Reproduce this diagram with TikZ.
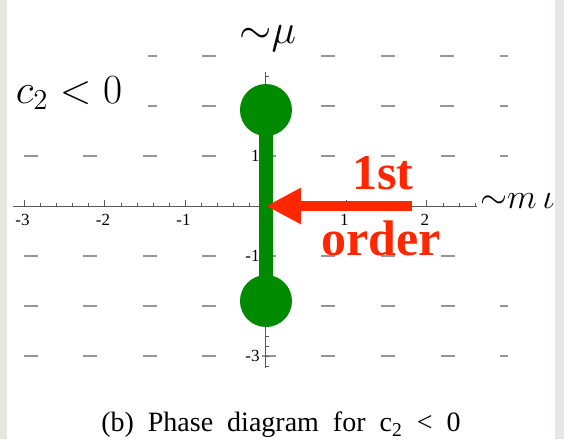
\documentclass[tikz,border=0pt]{standalone}
\usepackage{fontspec}
\setmainfont{Liberation Serif}
\newfontfamily\capfont[WordSpace=2]{Liberation Serif}
\usetikzlibrary{arrows.meta}
\definecolor{slidegray}{RGB}{233,230,225}
\definecolor{phasegreen}{RGB}{0,138,0}
\definecolor{phasered}{RGB}{255,38,0}
\definecolor{gridgray}{RGB}{150,150,150}
\definecolor{axisgray}{RGB}{90,90,90}

\begin{document}
\begin{tikzpicture}[x=40.25pt, y=25pt,
    gridrow/.style={gridgray, line width=1pt, dash pattern=on 7pt off 22.75pt},
    axisline/.style={axisgray, line width=0.5pt},
    ticklbl/.style={font=\fontsize{8.5}{9}\selectfont, inner sep=0pt},
    endpt/.style={circle, fill=phasegreen, minimum size=26pt, inner sep=0pt},
    greenbar/.style={phasegreen, line width=7pt},
    redarrow/.style={phasered, line width=5pt, -{Triangle[length=17.5pt, width=17pt]}},
    redlbl/.style={phasered, font=\fontsize{25}{28}\selectfont\bfseries, anchor=base, inner sep=0pt},
    mathlbl/.style={font=\fontsize{21}{24}\selectfont, inner sep=0pt}]
    % slide frame
    \useasboundingbox (-3.304,-4.66) rectangle (3.702,4.12);
    \fill[white] (-3.304,-4.66) rectangle (3.702,4.12);
    \fill[slidegray] (-3.304,-4.66) rectangle (-3.217,4.12);
    \fill[slidegray] (3.590,-4.66) rectangle (3.702,4.12);

    % dashed grid rows
    \foreach \r in {1,-2,-3}
        \draw[gridrow] (-3.006,\r) -- (3.006,\r);
    \draw[gridrow] (-3.006,-1) -- (2.6,-1);
    \foreach \r in {3,2}
        \draw[gridrow, dash phase=2.5pt] (-1.466,\r) -- (3.006,\r);

    % axes
    \draw[axisline] (-3.143,0) -- (2.621,0);
    \draw[axisline] (0,-3.24) -- (0,2.68);
    \foreach \t in {-3.0,-2.8,...,2.6}
        \draw[axisline] (\t,0) -- ++(0,1.5pt);
    \foreach \t in {-3,-2,-1,1,2}
        \draw[axisline] (\t,0) -- ++(0,3pt);
    \foreach \t in {-3.2,-3.0,...,2.6}
        \draw[axisline] (0,\t) -- ++(1.5pt,0);
    \foreach \t in {-3,-2,-1,1,2}
        \node[ticklbl, anchor=north] (xl\t) at ([xshift=-1pt, yshift=-4pt]\t,0) {\t};
    \foreach \t in {1,-1,-3}
        \node[ticklbl, anchor=east] (yl\t) at ([xshift=-3pt]0,\t) {\t};

    % transition line
    \node[endpt] (top) at (0,1.92) {};
    \node[endpt] (bot) at (0,-1.9) {};
    \draw[greenbar] (top.center) -- (bot.center);

    \coordinate (orig) at (0,0);
    \coordinate (tail) at (1.814,0);
    \draw[redarrow] (tail) -- (orig);
    \node[redlbl] (first) at (1.453,0.34) {1st};
    \node[redlbl] (order) at (1.43,-0.98) {order};

    % labels
    \node[mathlbl, anchor=base, fill=white, inner sep=4pt] (mu) at (0.02,3.24) {${\sim}\mu$};
    \node[mathlbl, anchor=base] (c2) at (-2.447,2.06) {$c_2<0$};
    \node[mathlbl, anchor=base west, font=\fontsize{19}{22}\selectfont] (m) at (2.658,-0.04) {${\sim}m\,\iota$};
    \node[font=\capfont\fontsize{14}{16}\selectfont] (cap) at (0.186,-4.38) {(b) Phase diagram for c\textsubscript{2} < 0};
\end{tikzpicture}
\end{document}
